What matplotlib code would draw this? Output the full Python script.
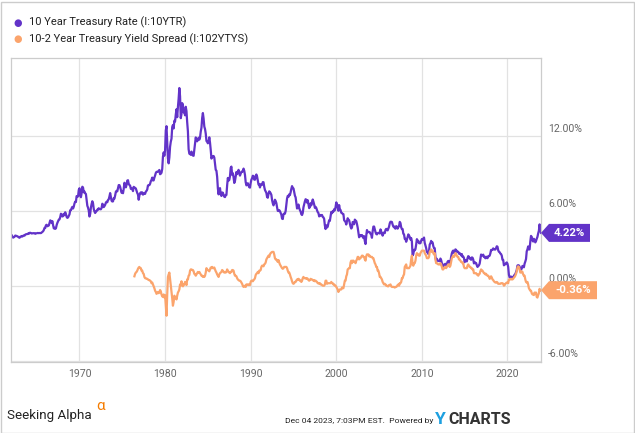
import numpy as np
import matplotlib
matplotlib.use("Agg")
import matplotlib.pyplot as plt
from matplotlib.patches import Polygon, Rectangle
from matplotlib.transforms import ScaledTranslation

# 10 Year Treasury Rate, monthly, Jan 1962 - Dec 2023 (%)
rate_start = 1962
rate_rows = [
    [4.08, 4.04, 3.93, 3.84, 3.87, 3.91, 4.01, 3.98, 3.98, 3.93, 3.92, 3.86],
    [3.83, 3.92, 3.93, 3.97, 3.93, 3.99, 4.02, 4.00, 4.08, 4.11, 4.12, 4.13],
    [4.17, 4.15, 4.22, 4.23, 4.20, 4.17, 4.19, 4.19, 4.20, 4.19, 4.15, 4.18],
    [4.19, 4.21, 4.21, 4.20, 4.21, 4.21, 4.20, 4.25, 4.29, 4.35, 4.45, 4.62],
    [4.61, 4.83, 4.87, 4.75, 4.78, 4.81, 5.02, 5.22, 5.18, 5.01, 5.16, 4.84],
    [4.58, 4.63, 4.54, 4.59, 4.85, 5.02, 5.16, 5.28, 5.30, 5.48, 5.75, 5.70],
    [5.53, 5.56, 5.74, 5.64, 5.87, 5.72, 5.50, 5.42, 5.46, 5.58, 5.70, 6.03],
    [6.04, 6.19, 6.30, 6.17, 6.32, 6.57, 6.72, 6.69, 7.16, 7.10, 7.14, 7.65],
    [7.79, 7.24, 7.07, 7.39, 7.91, 7.84, 7.46, 7.53, 7.39, 7.33, 6.84, 6.39],
    [6.24, 6.00, 5.53, 5.73, 6.24, 6.53, 6.75, 6.58, 6.14, 5.93, 5.81, 5.93],
    [5.95, 6.08, 6.07, 6.19, 6.13, 6.11, 6.11, 6.21, 6.55, 6.48, 6.28, 6.36],
    [6.46, 6.64, 6.71, 6.67, 6.85, 6.90, 7.13, 7.40, 7.09, 6.79, 6.73, 6.74],
    [6.99, 6.96, 7.21, 7.51, 7.58, 7.54, 7.81, 8.04, 8.04, 7.90, 7.68, 7.43],
    [7.50, 7.39, 7.73, 8.23, 8.06, 7.86, 8.06, 8.40, 8.43, 8.14, 8.05, 8.00],
    [7.74, 7.79, 7.73, 7.56, 7.90, 7.86, 7.83, 7.77, 7.59, 7.41, 7.29, 6.87],
    [7.21, 7.39, 7.46, 7.37, 7.46, 7.28, 7.33, 7.40, 7.34, 7.52, 7.58, 7.69],
    [8.01, 8.03, 8.04, 8.15, 8.35, 8.46, 8.64, 8.41, 8.42, 8.64, 8.81, 9.01],
    [9.10, 9.10, 9.12, 9.18, 9.25, 8.91, 8.95, 9.03, 9.33, 10.30, 10.65, 10.39],
    [10.80, 12.41, 12.75, 11.47, 10.18, 9.78, 10.25, 11.10, 11.51, 11.75, 12.68, 12.84],
    [12.57, 13.19, 13.12, 13.68, 14.10, 13.47, 14.28, 14.94, 15.80, 15.15, 13.39, 13.72],
    [14.59, 14.43, 13.86, 13.87, 13.62, 14.30, 13.95, 13.06, 12.34, 10.91, 10.55, 10.54],
    [10.46, 10.72, 10.51, 10.40, 10.38, 10.85, 11.38, 11.85, 11.65, 11.54, 11.69, 11.83],
    [11.67, 11.84, 12.32, 12.63, 13.41, 13.80, 13.36, 12.72, 12.52, 12.16, 11.57, 11.50],
    [11.38, 11.51, 11.86, 11.43, 10.85, 10.16, 10.31, 10.33, 10.37, 10.24, 9.78, 9.26],
    [9.19, 8.70, 7.78, 7.30, 7.71, 7.80, 7.30, 7.17, 7.45, 7.43, 7.25, 7.11],
    [7.08, 7.25, 7.25, 8.02, 8.61, 8.40, 8.45, 8.76, 9.42, 9.52, 8.86, 8.99],
    [8.67, 8.21, 8.37, 8.72, 9.09, 8.92, 9.06, 9.26, 8.98, 8.80, 8.96, 9.11],
    [9.09, 9.17, 9.36, 9.18, 8.86, 8.28, 8.02, 8.11, 8.19, 8.01, 7.87, 7.84],
    [8.21, 8.47, 8.59, 8.79, 8.76, 8.48, 8.47, 8.75, 8.89, 8.72, 8.39, 8.08],
    [8.09, 7.85, 8.11, 8.04, 8.07, 8.28, 8.27, 7.90, 7.65, 7.53, 7.42, 7.09],
    [7.03, 7.34, 7.54, 7.48, 7.39, 7.26, 6.84, 6.59, 6.42, 6.59, 6.87, 6.77],
    [6.60, 6.26, 5.98, 5.97, 6.04, 5.96, 5.81, 5.68, 5.36, 5.33, 5.72, 5.77],
    [5.75, 5.97, 6.48, 6.97, 7.18, 7.10, 7.30, 7.24, 7.46, 7.74, 7.96, 7.81],
    [7.78, 7.47, 7.20, 7.06, 6.63, 6.17, 6.28, 6.49, 6.20, 6.04, 5.93, 5.71],
    [5.65, 5.81, 6.27, 6.51, 6.74, 6.91, 6.87, 6.64, 6.83, 6.53, 6.20, 6.30],
    [6.58, 6.42, 6.69, 6.89, 6.71, 6.49, 6.22, 6.30, 6.21, 6.03, 5.88, 5.81],
    [5.54, 5.57, 5.65, 5.64, 5.65, 5.50, 5.46, 5.34, 4.81, 4.53, 4.83, 4.65],
    [4.72, 5.00, 5.23, 5.18, 5.54, 5.90, 5.79, 5.94, 5.92, 6.11, 6.03, 6.28],
    [6.66, 6.52, 6.26, 5.99, 6.44, 6.10, 6.05, 5.83, 5.80, 5.74, 5.72, 5.24],
    [5.16, 5.10, 4.89, 5.14, 5.39, 5.28, 5.24, 4.97, 4.73, 4.57, 4.65, 5.09],
    [5.04, 4.91, 5.28, 5.21, 5.16, 4.93, 4.65, 4.26, 3.87, 3.94, 4.05, 4.03],
    [4.05, 3.90, 3.81, 3.96, 3.57, 3.33, 3.98, 4.45, 4.27, 4.29, 4.30, 4.27],
    [4.15, 4.08, 3.83, 4.35, 4.72, 4.73, 4.50, 4.28, 4.13, 4.10, 4.19, 4.23],
    [4.22, 4.17, 4.50, 4.34, 4.14, 4.00, 4.18, 4.26, 4.20, 4.46, 4.54, 4.47],
    [4.42, 4.57, 4.72, 4.99, 5.11, 5.11, 5.09, 4.88, 4.72, 4.73, 4.60, 4.56],
    [4.76, 4.72, 4.56, 4.69, 4.75, 5.10, 5.00, 4.67, 4.52, 4.53, 4.15, 4.10],
    [3.74, 3.74, 3.51, 3.68, 3.88, 4.10, 4.01, 3.89, 3.69, 3.81, 3.53, 2.42],
    [2.52, 2.87, 2.82, 2.93, 3.29, 3.72, 3.56, 3.59, 3.40, 3.39, 3.40, 3.59],
    [3.73, 3.69, 3.73, 3.85, 3.42, 3.20, 3.01, 2.70, 2.65, 2.54, 2.76, 3.29],
    [3.39, 3.58, 3.41, 3.46, 3.17, 3.00, 3.00, 2.30, 1.98, 2.15, 2.01, 1.98],
    [1.97, 1.97, 2.17, 2.05, 1.80, 1.62, 1.53, 1.68, 1.72, 1.75, 1.65, 1.72],
    [1.91, 1.98, 1.96, 1.76, 1.93, 2.30, 2.58, 2.74, 2.81, 2.62, 2.72, 2.90],
    [2.86, 2.71, 2.72, 2.71, 2.56, 2.60, 2.54, 2.42, 2.53, 2.30, 2.33, 2.21],
    [1.88, 1.98, 2.04, 1.94, 2.20, 2.36, 2.32, 2.17, 2.17, 2.07, 2.26, 2.24],
    [2.09, 1.78, 1.89, 1.81, 1.81, 1.64, 1.50, 1.56, 1.63, 1.76, 2.14, 2.49],
    [2.43, 2.42, 2.48, 2.30, 2.30, 2.19, 2.32, 2.21, 2.20, 2.36, 2.35, 2.40],
    [2.58, 2.86, 2.84, 2.87, 2.98, 2.91, 2.89, 2.89, 3.00, 3.15, 3.12, 2.83],
    [2.71, 2.68, 2.57, 2.53, 2.40, 2.07, 2.06, 1.63, 1.70, 1.71, 1.81, 1.86],
    [1.76, 1.50, 0.87, 0.66, 0.67, 0.73, 0.62, 0.65, 0.68, 0.79, 0.87, 0.93],
    [1.08, 1.26, 1.61, 1.64, 1.62, 1.52, 1.32, 1.28, 1.37, 1.58, 1.56, 1.47],
    [1.76, 1.93, 2.13, 2.75, 2.90, 3.14, 2.90, 2.90, 3.52, 3.98, 3.89, 3.62],
    [3.53, 3.75, 3.66, 3.46, 3.57, 3.75, 3.90, 4.17, 4.38, 4.90, 4.50, 4.22],
]

# 10-2 Year Treasury Yield Spread, monthly, Jun 1976 - Dec 2023 (%)
spread_start = 1976 + 5 / 12
spread_1976 = [0.75, 0.95, 1.05, 1.10, 1.20, 1.35, 1.45]
spread_rows = [
    [1.50, 1.40, 1.40, 1.20, 1.20, 1.00, 0.95, 0.70, 0.60, 0.60, 0.55, 0.55],
    [0.50, 0.45, 0.45, 0.40, 0.35, 0.20, 0.25, 0.10, -0.05, -0.20, -0.40, -0.50],
    [-0.65, -0.60, -0.50, -0.60, -0.55, -0.35, -0.45, -0.70, -0.85, -0.90, -0.70, -0.95],
    [-0.75, -1.55, -2.40, -0.70, 0.70, 0.90, 1.05, 0.55, 0.05, -0.40, -1.00, -1.60],
    [-1.30, -0.80, -1.00, -0.90, -1.10, -0.80, -0.55, -0.45, -0.30, 0.10, 0.00, 0.35],
    [0.05, -0.05, 0.10, 0.10, 0.30, 0.20, 0.05, 0.50, 0.50, 0.80, 0.85, 1.20],
    [1.30, 1.30, 1.25, 1.25, 1.15, 0.95, 0.90, 0.80, 0.90, 1.00, 1.10, 1.05],
    [1.10, 1.00, 0.90, 0.80, 0.80, 0.70, 0.75, 0.70, 0.80, 1.05, 1.40, 1.30],
    [1.25, 1.20, 1.15, 1.30, 1.45, 1.40, 1.50, 1.40, 1.40, 1.45, 1.30, 1.15],
    [1.05, 0.90, 0.80, 0.70, 0.90, 1.00, 1.05, 1.10, 1.25, 1.20, 1.10, 1.05],
    [1.10, 1.05, 1.10, 1.30, 1.20, 1.10, 1.05, 1.00, 1.10, 1.10, 1.25, 1.25],
    [1.20, 0.95, 0.80, 0.80, 0.75, 0.60, 0.50, 0.45, 0.40, 0.40, 0.35, 0.25],
    [0.15, 0.00, -0.10, -0.05, 0.00, -0.10, 0.10, 0.05, 0.10, 0.05, 0.10, 0.05],
    [0.30, 0.40, 0.40, 0.35, 0.45, 0.50, 0.60, 0.85, 0.95, 1.00, 1.10, 1.00],
    [1.20, 1.20, 1.25, 1.50, 1.60, 1.60, 1.55, 1.70, 1.75, 1.85, 2.10, 2.20],
    [2.30, 2.40, 2.30, 2.50, 2.60, 2.65, 2.70, 2.70, 2.70, 2.50, 2.20, 2.10],
    [2.10, 2.00, 1.90, 2.05, 1.85, 1.70, 1.60, 1.50, 1.40, 1.35, 1.40, 1.50],
    [1.50, 1.50, 1.50, 1.40, 1.20, 1.05, 1.05, 0.90, 0.70, 0.55, 0.35, 0.20],
    [0.15, 0.20, 0.30, 0.30, 0.40, 0.50, 0.45, 0.55, 0.50, 0.40, 0.40, 0.30],
    [0.40, 0.60, 0.70, 0.60, 0.60, 0.60, 0.55, 0.60, 0.55, 0.45, 0.40, 0.45],
    [0.55, 0.50, 0.50, 0.45, 0.40, 0.45, 0.35, 0.40, 0.35, 0.30, 0.20, 0.20],
    [0.15, 0.20, 0.10, 0.10, 0.05, 0.00, 0.00, 0.00, 0.10, 0.40, 0.40, 0.15],
    [0.20, 0.20, 0.20, 0.20, 0.20, 0.30, 0.20, 0.20, 0.10, 0.10, 0.00, 0.00],
    [-0.10, -0.20, -0.30, -0.50, -0.40, -0.30, -0.30, -0.30, -0.15, -0.20, -0.20, 0.10],
    [0.40, 0.40, 0.75, 0.90, 1.30, 1.35, 1.40, 1.40, 1.85, 2.00, 1.80, 2.00],
    [2.00, 1.90, 1.90, 1.80, 2.00, 2.10, 2.30, 2.30, 2.10, 2.20, 2.20, 2.30],
    [2.40, 2.40, 2.30, 2.30, 2.10, 2.00, 2.35, 2.50, 2.50, 2.50, 2.35, 2.40],
    [2.30, 2.30, 2.30, 2.20, 2.20, 2.00, 1.80, 1.70, 1.50, 1.50, 1.20, 1.20],
    [1.00, 0.70, 0.70, 0.60, 0.50, 0.30, 0.20, 0.10, 0.15, 0.10, 0.00, 0.00],
    [-0.05, -0.05, 0.05, 0.05, 0.10, -0.05, -0.10, -0.10, -0.10, -0.10, -0.15, -0.10],
    [-0.10, -0.05, 0.05, 0.10, 0.00, 0.20, 0.20, 0.30, 0.60, 0.60, 0.80, 0.90],
    [1.50, 1.60, 1.70, 1.40, 1.40, 1.40, 1.40, 1.50, 1.60, 2.10, 2.40, 1.70],
    [1.60, 1.80, 1.80, 2.00, 2.40, 2.60, 2.50, 2.50, 2.40, 2.40, 2.60, 2.70],
    [2.80, 2.80, 2.80, 2.80, 2.60, 2.50, 2.40, 2.20, 2.20, 2.20, 2.30, 2.70],
    [2.80, 2.90, 2.70, 2.80, 2.60, 2.50, 2.60, 2.10, 1.80, 1.80, 1.75, 1.70],
    [1.70, 1.70, 1.80, 1.70, 1.50, 1.30, 1.30, 1.40, 1.50, 1.50, 1.40, 1.50],
    [1.60, 1.70, 1.70, 1.50, 1.60, 1.90, 2.20, 2.30, 2.40, 2.30, 2.40, 2.60],
    [2.50, 2.40, 2.30, 2.30, 2.10, 2.10, 2.00, 1.90, 1.90, 1.80, 1.80, 1.50],
    [1.40, 1.40, 1.40, 1.40, 1.60, 1.70, 1.60, 1.50, 1.50, 1.40, 1.40, 1.30],
    [1.30, 1.00, 1.00, 1.00, 1.00, 0.90, 0.90, 0.80, 0.90, 0.95, 1.15, 1.30],
    [1.20, 1.20, 1.10, 1.00, 1.00, 0.90, 0.95, 0.85, 0.80, 0.80, 0.70, 0.55],
    [0.60, 0.75, 0.65, 0.50, 0.45, 0.35, 0.30, 0.25, 0.25, 0.30, 0.25, 0.15],
    [0.15, 0.15, 0.15, 0.20, 0.20, 0.20, 0.15, 0.00, 0.05, 0.15, 0.20, 0.25],
    [0.25, 0.20, 0.50, 0.50, 0.50, 0.55, 0.50, 0.50, 0.55, 0.65, 0.70, 0.80],
    [0.95, 1.15, 1.45, 1.55, 1.50, 1.30, 1.05, 1.05, 1.15, 1.10, 0.90, 0.80],
    [0.80, 0.50, 0.30, 0.25, 0.30, 0.10, -0.20, -0.30, -0.40, -0.40, -0.60, -0.70],
    [-0.65, -0.75, -0.55, -0.60, -0.55, -0.90, -0.95, -0.75, -0.60, -0.25, -0.40, -0.36],
]

year_ticks = [1970, 1980, 1990, 2000, 2010, 2020]
pct_ticks = [-6, 0, 6, 12]
labels = ["10 Year Treasury Rate (I:10YTR)", "10-2 Year Treasury Yield Spread (I:102YTYS)"]
colors = ["#6233c8", "#fba46c"]

rate = np.concatenate(rate_rows)
rate_x = rate_start + np.arange(len(rate)) / 12
spread = np.concatenate([spread_1976] + spread_rows)
spread_x = spread_start + np.arange(len(spread)) / 12

plt.rcParams["font.family"] = ["Roboto", "DejaVu Sans"]

fig = plt.figure(figsize=(6.35, 4.33), dpi=100)
ax = fig.add_axes([11 / 635, 1 - 362 / 433, 530 / 635, 304 / 433])

ax.plot(rate_x, rate, color=colors[0], lw=1.6, solid_joinstyle="round")
ax.plot(spread_x, spread, color=colors[1], lw=1.6, solid_joinstyle="round")

ax.set_xlim(rate_x[0], rate_x[-1])
ax.set_ylim(-6.1, 18.2)
ax.set_xticks(year_ticks)
ax.set_xticklabels([str(y) for y in year_ticks])
ax.yaxis.tick_right()
ax.set_yticks(pct_ticks)
ax.set_yticklabels([f"{v:.2f}%" for v in pct_ticks])
ax.tick_params(length=0, labelsize=7.6, colors="#666666")
ax.tick_params(axis="y", pad=5)
ax.tick_params(axis="x", pad=5)
lift = ScaledTranslation(0, 1.0 / 72, fig.dpi_scale_trans)
for lab in ax.get_yticklabels():
    lab.set_verticalalignment("bottom")
    lab.set_transform(lab.get_transform() + lift)
ax.grid(True, color="#e2e2e2", lw=0.9)
ax.set_axisbelow(True)
for s in ax.spines.values():
    s.set_color("#cccccc")
    s.set_linewidth(0.9)

# legend
for i, (lab, col) in enumerate(zip(labels, colors)):
    y = 1 - (22.7 + 16.5 * i) / 433
    fig.text(18 / 635, y, "\u25CF", color=col, fontsize=7, ha="center", va="center")
    fig.text(29 / 635, y, lab, color="#222222", fontsize=8, ha="left", va="center")

# value tags on the right
fig.canvas.draw()
for series, col in [(rate, colors[0]), (spread, colors[1])]:
    last = series[-1]
    px, py = ax.transData.transform((rate_x[-1], last))
    txt = f"{last:.2f}%"
    w = 41 if last >= 0 else 48
    verts = [(px, py), (px + 8, py + 9), (px + 8 + w, py + 9), (px + 8 + w, py - 9), (px + 8, py - 9)]
    fig.patches.append(Polygon(verts, closed=True, facecolor=col, edgecolor="none",
                               transform=None, figure=fig))
    fig.text((px + 8 + w / 2) / 635, py / 433, txt, color="white", fontsize=8.2,
             fontweight="bold", ha="center", va="center")

# footer
fig.text(7 / 635, 1 - 416 / 433, "Seeking Alpha", fontsize=9.6, color="#222222",
         ha="left", va="center")
fig.text(96 / 635, 1 - 406 / 433, "\u03b1", fontsize=11, color="#f57c00",
         ha="left", va="center")
fig.text(433 / 635, 1 - 421 / 433, "Dec 04 2023, 7:03PM EST.  Powered by",
         fontsize=6.1, color="#222222", ha="right", va="center")
fig.text(435 / 635, 1 - 420 / 433, "Y", fontsize=12.5, fontweight="bold", color="#1ea0e0",
         ha="left", va="center")
fig.text(448 / 635, 1 - 420 / 433, "CHARTS", fontsize=11.5, fontweight="bold", color="#333333",
         ha="left", va="center")

# outer border
fig.patches.append(Rectangle((0.5, 0.5), 633, 431, transform=None, fill=False,
                             edgecolor="#cccccc", lw=1, figure=fig))

fig.savefig("out.png", dpi=100)
